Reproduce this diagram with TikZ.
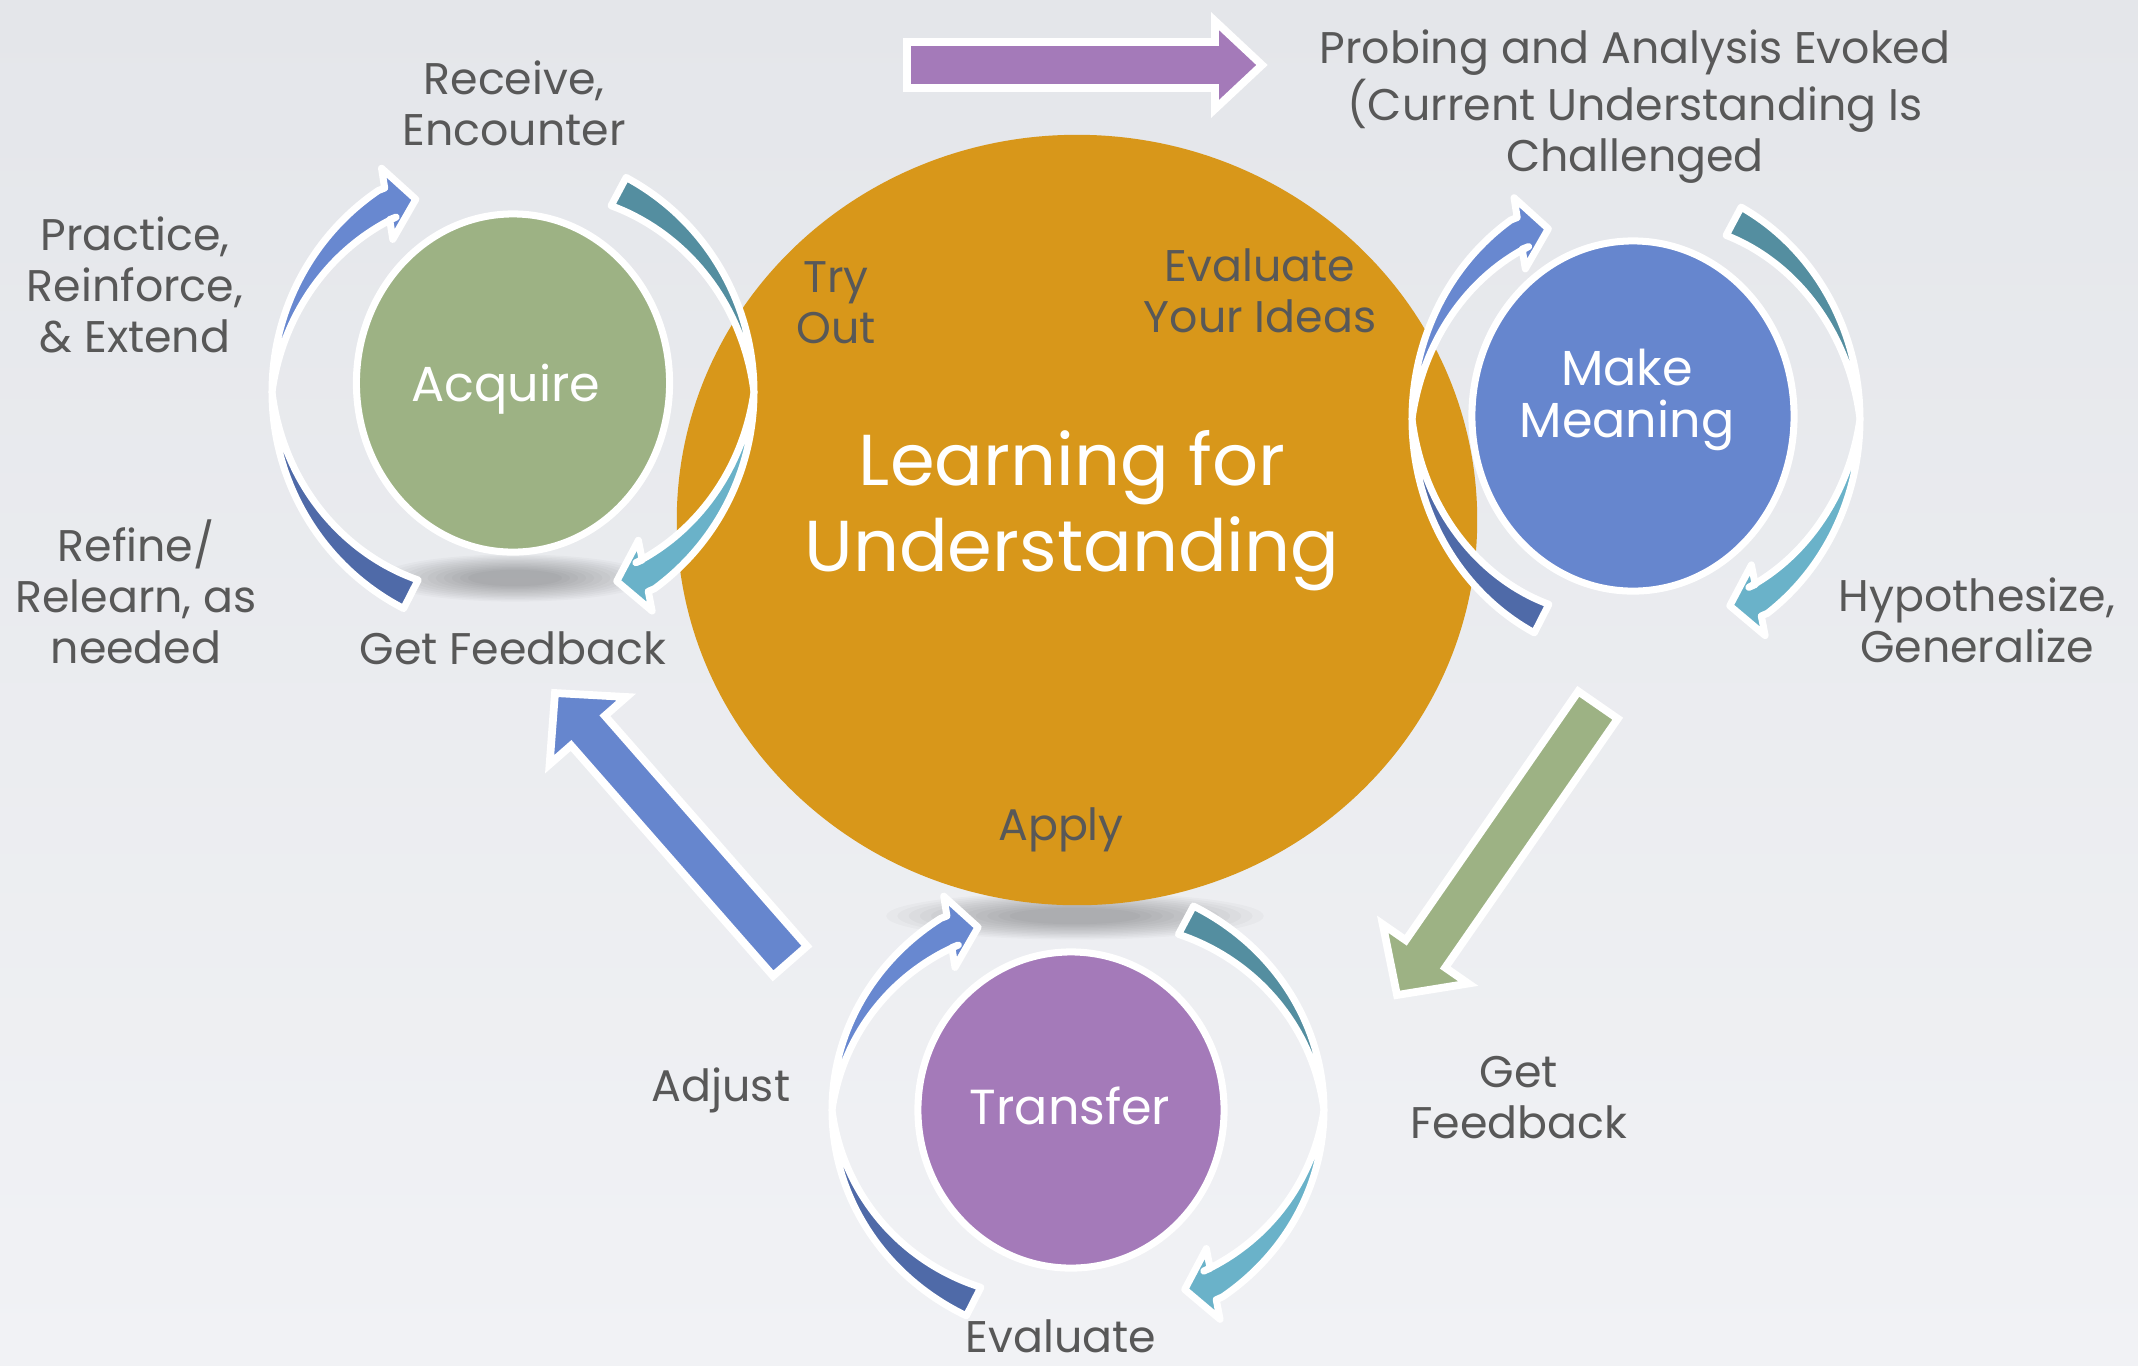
\documentclass[tikz,border=0pt]{standalone}
\usepackage{fontspec}
\setmainfont{Poppins}
\usetikzlibrary{calc,shapes.geometric}

\definecolor{bgtop}{RGB}{228,230,234}
\definecolor{bgbottom}{RGB}{241,242,245}
\definecolor{orangeL}{RGB}{216,151,26}
\definecolor{greenA}{RGB}{157,178,132}
\definecolor{blueM}{RGB}{102,134,206}
\definecolor{purpleT}{RGB}{164,122,185}
\definecolor{arcblue}{RGB}{104,136,208}
\definecolor{arcnavy}{RGB}{79,106,168}
\definecolor{arcteal}{RGB}{84,142,160}
\definecolor{arcsky}{RGB}{106,178,201}
\definecolor{labelgray}{RGB}{88,88,88}

% width of a ring arrow at its thick end (in px units)
\newcommand{\armw}{32}

% ring arrow with a head: #1 colour, #2 #3 centre, #4 #5 radii, #6 thin angle, #7 head angle
\newcommand{\headpiece}[7]{%
  \pgfmathsetmacro\hbx{#2+(#4-\armw/2)*cos(#7)}%
  \pgfmathsetmacro\hby{#3+(#5-\armw/2)*sin(#7)}%
  \pgfmathsetmacro\hph{#7+115}%
  \fill[#1, ringpiece]
    plot[domain=#6:#7, samples=40] ({#2+#4*cos(\x)}, {#3+#5*sin(\x)})
    -- ({\hbx+16*cos(\hph-90)}, {\hby+16*sin(\hph-90)})
    -- ({\hbx+36*cos(\hph-90)}, {\hby+36*sin(\hph-90)})
    -- ({\hbx+29*cos(\hph)}, {\hby+29*sin(\hph)})
    -- ({\hbx+36*cos(\hph+90)}, {\hby+36*sin(\hph+90)})
    -- ({\hbx+16*cos(\hph+90)}, {\hby+16*sin(\hph+90)})
    -- plot[domain=#6:#7, samples=40]
       ({#2+(#4-\armw*(#7-\x)/(#7-#6))*cos(#6+#7-\x)},
        {#3+(#5-\armw*(#7-\x)/(#7-#6))*sin(#6+#7-\x)})
    -- cycle;
}

% ring arrow with a flat end: #6 flat angle, #7 thin angle
\newcommand{\flatpiece}[7]{%
  \fill[#1, ringpiece]
    plot[domain=#6:#7, samples=40] ({#2+#4*cos(\x)}, {#3+#5*sin(\x)})
    -- plot[domain=#6:#7, samples=40]
       ({#2+(#4-\armw*(\x-#6)/(#7-#6))*cos(#6+#7-\x)},
        {#3+(#5-\armw*(\x-#6)/(#7-#6))*sin(#6+#7-\x)})
    -- cycle;
}

% the four arrows round one small circle
\newcommand{\cyclering}[4]{%
  \headpiece{arcblue}{#1}{#2}{#3}{#4}{180}{236}
  \flatpiece{arcteal}{#1}{#2}{#3}{#4}{298}{360}
  \headpiece{arcsky}{#1}{#2}{#3}{#4}{0}{54}
  \flatpiece{arcnavy}{#1}{#2}{#3}{#4}{117}{180}
}

% straight block arrow: #1 colour, #2 tail, #3 tip, #4 half shaft, #5 half head, #6 head length
\newcommand{\blockarrow}[6]{%
  \coordinate (hb) at ($(#3)!#6!(#2)$);
  \fill[#1, bigarrow] ($(#2)!#4!90:(#3)$) -- ($(hb)!#4!90:(#3)$) -- ($(hb)!#5!90:(#3)$)
    -- (#3) -- ($(hb)!#5!-90:(#3)$) -- ($(hb)!#4!-90:(#3)$) -- ($(#2)!#4!-90:(#3)$) -- cycle;
}

% soft grey shadow: centre #1 #2, radii #3 #4
\newcommand{\softshadow}[4]{%
  \foreach \k in {1,...,12}
    \fill[black, opacity=.025] (#1,#2) ellipse ({#3*(1.25-0.07*\k)} and {#4*(1.25-0.07*\k)});
}

\begin{document}
\begin{tikzpicture}[x=0.01cm, y=-0.01cm,
  ringpiece/.style={draw=white, line width=2pt, line join=round},
  bigarrow/.style={draw=white, line width=2.2pt, line join=miter},
  disc/.style={ellipse, draw=white, line width=2pt, inner sep=0pt},
  lbl/.style={text=labelgray, align=center, font=\fontsize{12.6}{14.5}\selectfont},
  inlbl/.style={text=white, align=center, font=\fontsize{14}{15}\selectfont}]

% background
\shade[top color=bgtop, bottom color=bgbottom] (0,0) rectangle (2138,1365);
\useasboundingbox (0,0) rectangle (2138,1365);

% shadows
\softshadow{1075}{916}{160}{20}
\softshadow{515}{578}{115}{20}

% main circle
\node[ellipse, fill=orangeL, inner sep=0pt, minimum width=8cm, minimum height=7.7cm] (learning) at (1077,520) {};

% arrows round the three small circles
\cyclering{513}{392}{241}{243}
\cyclering{1636}{419}{224}{240}
\cyclering{1078}{1110}{246}{231}

% small circles
\node[disc, fill=greenA, minimum width=3.13cm, minimum height=3.38cm] (acquire) at (513,383) {};
\node[disc, fill=blueM, minimum width=3.22cm, minimum height=3.50cm] (meaning) at (1633,416) {};
\node[disc, fill=purpleT, minimum width=3.06cm, minimum height=3.16cm] (transfer) at (1071,1110) {};

% straight arrows
\coordinate (topTail) at (907,65);
\coordinate (topTip) at (1262,65);
\coordinate (adjTail) at (790,961);
\coordinate (adjTip) at (555,693);
\coordinate (fbTail) at (1598,705);
\coordinate (fbTip) at (1397,995);
\blockarrow{purpleT}{topTail}{topTip}{0.23cm}{0.44cm}{0.47cm}
\blockarrow{blueM}{adjTail}{adjTip}{0.225cm}{0.51cm}{0.5cm}
\blockarrow{greenA}{fbTail}{fbTip}{0.24cm}{0.52cm}{0.5cm}

% texts in circles
\node[inlbl] (acquireT) at (506,389) {Acquire};
\node[inlbl] (meaningT) at (1627,400) {Make\\Meaning};
\node[inlbl] (transferT) at (1070,1106) {Transfer};
\node[inlbl, font=\fontsize{20.5}{24.5}\selectfont] (learningT) at (1072,511) {Learning for\\Understanding};

% labels
\node[lbl] (receive) at (514,103) {Receive,\\Encounter};
\node[lbl] (practice) at (135,285) {Practice,\\Reinforce,\\\& Extend};
\node[lbl] (refine) at (136,592) {Refine/\\Relearn, as\\needed};
\node[lbl] (getfbA) at (513,648) {Get Feedback};
\node[lbl] (tryout) at (836,303) {Try\\Out};
\node[lbl] (evalideas) at (1260,291) {Evaluate\\Your Ideas};
\node[lbl] (apply) at (1061,830) {Apply};
\node[lbl] (probing) at (1635,107) {Probing and Analysis Evoked\\(Current Understanding Is\\Challenged};
\node[lbl] (hypo) at (1977,620) {Hypothesize,\\Generalize};
\node[lbl] (getfbT) at (1519,1098) {Get\\Feedback};
\node[lbl] (adjust) at (721,1090) {Adjust};
\node[lbl] (evaluate) at (1061,1336) {Evaluate};
\end{tikzpicture}
\end{document}
